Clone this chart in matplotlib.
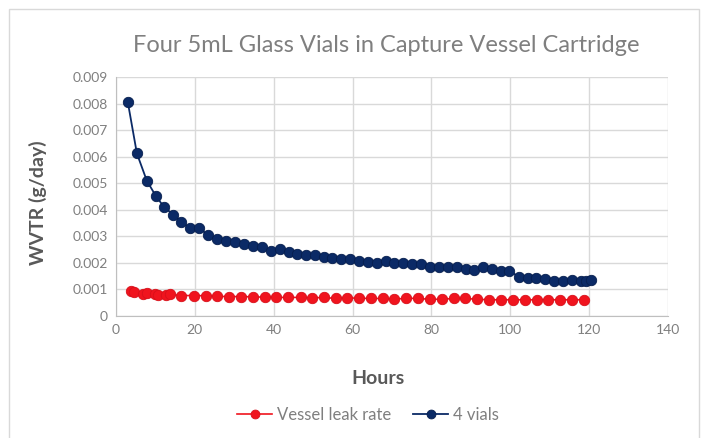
import matplotlib
matplotlib.use('Agg')
import matplotlib.pyplot as plt
from matplotlib.ticker import FuncFormatter
from matplotlib.patches import Rectangle

plt.rcParams['font.family'] = ['Lato', 'DejaVu Sans']

# 4 vials series (hours, WVTR g/day)
vial_hours = [3.0, 5.3, 7.8, 10.1, 12.2, 14.5, 16.6, 18.8, 21.1, 23.4, 25.6, 27.8,
              30.2, 32.5, 34.8, 37.0, 39.4, 41.5, 43.8, 46.0, 48.3, 50.4, 52.7, 54.9,
              57.1, 59.3, 61.6, 63.9, 66.1, 68.4, 70.6, 72.8, 75.1, 77.4, 79.7, 81.9,
              84.3, 86.5, 88.8, 90.9, 93.2, 95.4, 97.6, 99.8, 102.1, 104.4, 106.6, 108.9,
              111.1, 113.3, 115.6, 117.9, 119.2, 120.4]
vial_wvtr = [0.00805, 0.00612, 0.00510, 0.00452, 0.00410, 0.00382, 0.00355, 0.00330,
             0.00330, 0.00305, 0.00290, 0.00283, 0.00278, 0.00273, 0.00263, 0.00260,
             0.00243, 0.00251, 0.00240, 0.00233, 0.00229, 0.00228, 0.00221, 0.00218,
             0.00215, 0.00214, 0.00207, 0.00203, 0.00200, 0.00207, 0.00198, 0.00198,
             0.00194, 0.00194, 0.00185, 0.00184, 0.00185, 0.00185, 0.00176, 0.00173,
             0.00183, 0.00176, 0.00170, 0.00170, 0.00148, 0.00143, 0.00142, 0.00138,
             0.00133, 0.00132, 0.00134, 0.00130, 0.00130, 0.00135]

# vessel leak rate series
leak_hours = [3.7, 4.6, 6.9, 7.8, 9.9, 10.7, 12.8, 13.7, 16.6, 19.7, 22.8, 25.6,
              28.7, 31.7, 34.8, 37.7, 40.7, 43.6, 46.8, 49.7, 52.7, 55.7, 58.7, 61.6,
              64.6, 67.6, 70.6, 73.6, 76.5, 79.7, 82.7, 85.6, 88.6, 91.6, 94.7, 97.6,
              100.6, 103.7, 106.7, 109.6, 112.7, 115.6, 118.6]
leak_wvtr = [0.00093, 0.00090, 0.00084, 0.00086, 0.00081, 0.00080, 0.00080, 0.00081,
             0.00077, 0.00077, 0.00076, 0.00074, 0.00073, 0.00073, 0.00072, 0.00071,
             0.00070, 0.00070, 0.00070, 0.00068, 0.00070, 0.00066, 0.00068, 0.00067,
             0.00066, 0.00066, 0.00063, 0.00067, 0.00066, 0.00063, 0.00063, 0.00066,
             0.00066, 0.00063, 0.00061, 0.00061, 0.00061, 0.00061, 0.00061, 0.00061,
             0.00061, 0.00061, 0.00061]

red = '#F0141E'
navy = '#0B2A66'
grey = '#7F7F7F'

fig = plt.figure(figsize=(7.04, 4.38), dpi=100)
fig.patches.append(Rectangle((9/704, -0.05), 690/704, 1.05 - 9/438, transform=fig.transFigure,
                             fill=False, edgecolor='#D9D9D9', linewidth=1))
ax = fig.add_axes([116/704, 1 - 316/438, 552/704, 239/438])

ax.plot(leak_hours, leak_wvtr, color=red, lw=1.2, marker='o', markersize=7.5,
        markerfacecolor=red, markeredgecolor='#D8101A', markeredgewidth=0.6,
        label='Vessel leak rate', zorder=3)
ax.plot(vial_hours, vial_wvtr, color=navy, lw=1.3, marker='o', markersize=7.5,
        markerfacecolor=navy, markeredgecolor='#061E4E', markeredgewidth=0.6,
        label='4 vials', zorder=4)

ax.set_xlim(0, 140)
ax.set_ylim(0, 0.009)
ax.set_xticks(range(0, 141, 20))
ax.set_yticks([i * 0.001 for i in range(10)])
ax.yaxis.set_major_formatter(FuncFormatter(lambda v, p: '0' if v == 0 else '%.3f' % v))
ax.grid(True, color='#D9D9D9', linewidth=1)
ax.set_axisbelow(True)
for s in ['top', 'right']:
    ax.spines[s].set_visible(False)
for s in ['left', 'bottom']:
    ax.spines[s].set_color('#BFBFBF')
ax.tick_params(length=0, labelsize=10, colors=grey, pad=6)

fig.text(0.549, 1 - 46/438, 'Four 5mL Glass Vials in Capture Vessel Cartridge',
         ha='center', va='center', fontsize=17, color='#7F7F7F', fontweight='normal')
fig.text(38/704, 1 - 203/438, 'WVTR (g/day)', rotation=90, ha='center', va='center',
         fontsize=14, fontweight='bold', color='#595959')
fig.text(378/704, 1 - 378/438, 'Hours', ha='center', va='center',
         fontsize=14, fontweight='bold', color='#595959')

fig.legend(loc='center', bbox_to_anchor=(368/704, 1 - 415/438), ncol=2, frameon=False,
           fontsize=12, labelcolor=grey, handlelength=2.1, columnspacing=1.3,
           handletextpad=0.3, markerscale=0.85)

fig.savefig('out.png', dpi=100)
